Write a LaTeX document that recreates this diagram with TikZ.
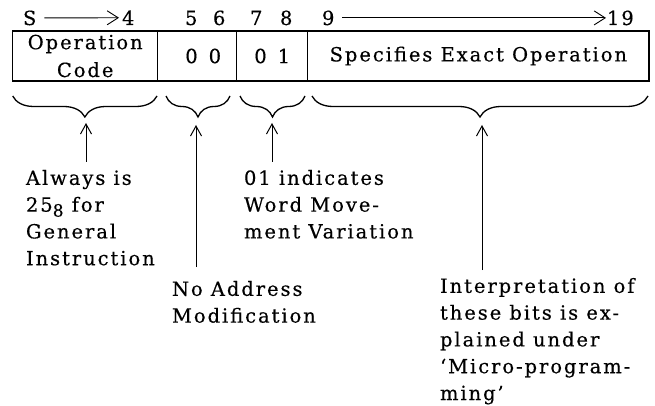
\documentclass[tikz,border=0pt]{standalone}
\usepackage{fontspec}
\setmainfont{DejaVu Serif}[LetterSpace=10,FakeBold=0.4]
\usetikzlibrary{arrows.meta,decorations.pathreplacing}
\begin{document}
\begin{tikzpicture}[x=1pt,y=-1pt,
  every node/.style={inner sep=0pt,outer sep=0pt,font=\fontsize{19.5}{26.8}\selectfont},
  field/.style={draw,line width=1.3pt,anchor=north west,minimum height=50pt,align=center},
  hnum/.style={anchor=base west},
  note/.style={anchor=north west,align=left},
  harr/.style={-{Straight Barb[length=11pt,width=14pt]},line width=0.9pt},
  varr/.style={-{Straight Barb[length=10pt,width=11pt]},line width=1pt},
  brc/.style={decorate,decoration={brace,mirror,amplitude=21pt,aspect=0.5},line width=1.3pt}]
\useasboundingbox (0,0) rectangle (655,406);
% header numbers
\node[hnum] (hS) at (23,25) {S};
\node[hnum] (h4) at (122,25) {4};
\node[hnum] (h5) at (185,25) {5};
\node[hnum] (h6) at (213,25) {6};
\node[hnum] (h7) at (250,25) {7};
\node[hnum] (h8) at (280,25) {8};
\node[hnum] (h9) at (322,25) {9};
\node[hnum] (h19) at (607,25) {19};
\draw[harr,shorten <=8pt,shorten >=3pt] (hS.east) -- (h4.west);
\draw[harr,shorten <=8pt,shorten >=1pt] (h9.east) -- (h19.west);
% fields
\node[field,minimum width=145pt] (f1) at (12.7,31) {Operation\\[1pt]Code};
\node[field,minimum width=79pt] (f2) at (157.7,31) {\hspace*{12pt}0\hspace{11pt}0};
\node[field,minimum width=71pt] (f3) at (236.7,31) {0\hspace{11pt}1};
\node[field,minimum width=341.3pt] (f4) at (307.7,31) {Specifies Exact Operation};
% braces
\coordinate (b1l) at (12.7,96); \coordinate (b1r) at (157,96);
\coordinate (b2l) at (166,96); \coordinate (b2r) at (230,96);
\coordinate (b3l) at (240,96); \coordinate (b3r) at (305,96);
\coordinate (b4l) at (312,96); \coordinate (b4r) at (648,96);
\draw[brc] (b1l) -- (b1r);
\draw[brc] (b2l) -- (b2r);
\draw[brc] (b3l) -- (b3r);
\draw[brc] (b4l) -- (b4r);
\coordinate (tip1) at (86,123);
\coordinate (tip2) at (196,125);
\coordinate (tip3) at (272,123);
\coordinate (tip4) at (482,125);
% notes
\node[note] (n1) at (26,170) {Always is\\25\raisebox{-5pt}{\fontsize{17}{17}\selectfont 8} for\\General\\Instruction};
\node[note] (n2) at (172,281) {No Address\\Modification};
\node[note] (n3) at (244,170) {01 indicates\\Word Move-\\ment Variation};
\node[note] (n4) at (440,278) {Interpretation of\\these bits is ex-\\plained under\\‘Micro-program-\\ming’};
% arrows
\draw[varr,shorten <=8pt] (tip1 |- n1.north) -- (tip1);
\draw[varr,shorten <=14pt] (tip2 |- n2.north) -- (tip2);
\draw[varr,shorten <=8pt] (tip3 |- n3.north) -- (tip3);
\draw[varr,shorten <=8pt] (tip4 |- n4.north) -- (tip4);
\end{tikzpicture}
\end{document}
